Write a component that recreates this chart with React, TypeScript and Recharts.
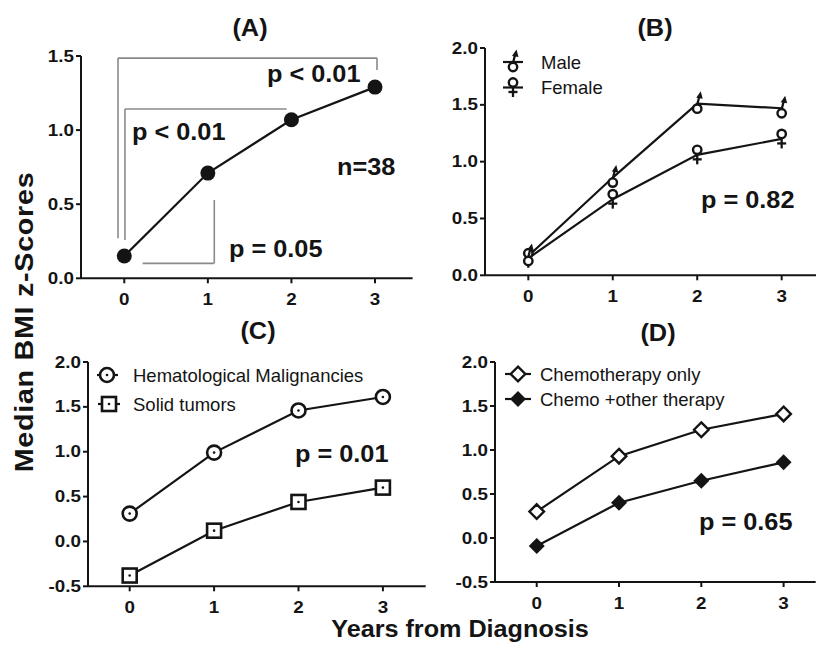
import React from 'react';
import { LineChart, Line, XAxis, YAxis, ReferenceLine } from 'recharts';

// values (median BMI z-scores by year from diagnosis)
const years = [0, 1, 2, 3];
const overall = [0.15, 0.71, 1.07, 1.29];
const male = [0.17, 0.86, 1.51, 1.47];
const female = [0.15, 0.67, 1.06, 1.2];
const hematological = [0.31, 0.99, 1.46, 1.61];
const solidTumors = [-0.38, 0.12, 0.44, 0.6];
const chemoOnly = [0.3, 0.93, 1.23, 1.41];
const chemoOther = [-0.09, 0.4, 0.65, 0.86];

const ticksA = [0, 0.5, 1, 1.5];
const ticksB = [0, 0.5, 1, 1.5, 2];
const ticksCD = [-0.5, 0, 0.5, 1, 1.5, 2];

// significance brackets of panel A, as polylines in data units
const bracketsA: [number, number][][] = [
  [[-0.075, 0.27], [-0.075, 1.486], [3.024, 1.486], [3.024, 1.405]],
  [[0.008, 0.258], [0.008, 1.142], [1.943, 1.142]],
  [[0.22, 0.101], [1.077, 0.101], [1.077, 0.528]],
];

const INK = '#141414';
const FONT = '"Liberation Sans", Arial, Helvetica, sans-serif';

const table = (cols: Record<string, number[]>) =>
  years.map((x, i) => {
    const row: Record<string, number> = { x };
    Object.keys(cols).forEach((k) => (row[k] = cols[k][i]));
    return row;
  });

// ---- marker glyphs ----
const filledCircle = (cx: number, cy: number, key?: string) => (
  <circle key={key} cx={cx} cy={cy} r={7.5} fill={INK} />
);

const maleGlyph = (cx: number, cy: number, key?: string) => (
  <g key={key}>
    <line x1={cx} y1={cy + 1} x2={cx + 2} y2={cy - 7} stroke={INK} strokeWidth={2.3} />
    <polygon points={`${cx + 3.5},${cy - 12.5} ${cx - 1},${cy - 6} ${cx + 5.5},${cy - 5}`} fill={INK} />
    <circle cx={cx} cy={cy + 5} r={4.2} fill="#fff" stroke={INK} strokeWidth={2.4} />
  </g>
);

const femaleGlyph = (cx: number, cy: number, key?: string) => (
  <g key={key}>
    <line x1={cx} y1={cy - 1} x2={cx} y2={cy + 9.5} stroke={INK} strokeWidth={2.3} />
    <line x1={cx - 4.5} y1={cy + 4.5} x2={cx + 4.5} y2={cy + 4.5} stroke={INK} strokeWidth={2.3} />
    <circle cx={cx} cy={cy - 5} r={4.2} fill="#fff" stroke={INK} strokeWidth={2.4} />
  </g>
);

const dottedCircle = (cx: number, cy: number, key?: string) => (
  <g key={key}>
    <circle cx={cx} cy={cy} r={7} fill="#fff" stroke={INK} strokeWidth={2.6} />
    <circle cx={cx} cy={cy} r={1.3} fill={INK} />
  </g>
);

const dottedSquare = (cx: number, cy: number, key?: string) => (
  <g key={key}>
    <rect x={cx - 7} y={cy - 7} width={14} height={14} fill="#fff" stroke={INK} strokeWidth={2.6} />
    <circle cx={cx} cy={cy} r={1.3} fill={INK} />
  </g>
);

const openDiamond = (cx: number, cy: number, key?: string) => (
  <polygon
    key={key}
    points={`${cx},${cy - 7.3} ${cx + 7.3},${cy} ${cx},${cy + 7.3} ${cx - 7.3},${cy}`}
    fill="#fff"
    stroke={INK}
    strokeWidth={2.4}
  />
);

const solidDiamond = (cx: number, cy: number, key?: string) => (
  <polygon
    key={key}
    points={`${cx},${cy - 8} ${cx + 8},${cy} ${cx},${cy + 8} ${cx - 8},${cy}`}
    fill={INK}
  />
);

type Glyph = (cx: number, cy: number, key?: string) => React.ReactElement;
const asDot = (g: Glyph, id: string) => (p: any) => g(p.cx, p.cy, `${id}-${p.index}`);

// bold text, widened a little like the original's Helvetica Bold
function Bold({
  x, y, size, sx = 1.1, anchor = 'start', rotate = 0, ls = 0, baseline, dy, children,
}: {
  x: number; y: number; size: number; sx?: number; anchor?: 'start' | 'middle' | 'end';
  rotate?: number; ls?: number; baseline?: string; dy?: string; children: React.ReactNode;
}) {
  return (
    <text
      x={0}
      y={0}
      dy={dy}
      textAnchor={anchor}
      dominantBaseline={baseline as any}
      transform={`translate(${x} ${y}) rotate(${rotate}) scale(${sx} 1)`}
      style={{ fontFamily: FONT, fontWeight: 700, fontSize: size, fill: INK, letterSpacing: ls }}
    >
      {children}
    </text>
  );
}

// ---- ticks ----
const YTick = ({ x, y, payload }: any) => (
  <Bold x={x} y={y} size={16.5} sx={1.14} anchor="end" baseline="central">
    {Number(payload.value).toFixed(1)}
  </Bold>
);

const XTick = ({ x, y, payload }: any) => (
  <Bold x={x} y={y} size={16.5} sx={1.14} anchor="middle" dy="0.71em">
    {payload.value}
  </Bold>
);

interface PanelProps {
  plot: { left: number; right: number; top: number; bottom: number };
  xDomain: [number, number];
  yDomain: [number, number];
  yTicks: number[];
  data: Record<string, number>[];
  children: React.ReactNode;
}

const Y_W = 60;
const X_H = 32;

function Panel({ plot, xDomain, yDomain, yTicks, data, children }: PanelProps) {
  const left = plot.left - Y_W;
  const top = plot.top - 10;
  const width = plot.right - left + 4;
  const height = plot.bottom - plot.top + 10 + X_H + 4;
  return (
    <div style={{ position: 'absolute', left, top, width, height }}>
      <LineChart width={width} height={height} data={data} margin={{ top: 10, right: 4, bottom: 4, left: 0 }}>
        <XAxis
          type="number"
          dataKey="x"
          domain={xDomain}
          ticks={years}
          height={X_H}
          tick={<XTick />}
          tickSize={5}
          tickMargin={10}
          axisLine={{ stroke: INK, strokeWidth: 2 }}
          tickLine={{ stroke: INK, strokeWidth: 2 }}
        />
        <YAxis
          type="number"
          domain={yDomain}
          ticks={yTicks}
          width={Y_W}
          tick={<YTick />}
          tickSize={5}
          tickMargin={2}
          axisLine={{ stroke: INK, strokeWidth: 2 }}
          tickLine={{ stroke: INK, strokeWidth: 2 }}
        />
        {children}
      </LineChart>
    </div>
  );
}

const lineProps = { type: 'linear' as const, stroke: INK, strokeWidth: 2.2, activeDot: false, isAnimationActive: false };

const legendText = { fontFamily: FONT, fontSize: 18.5, fill: INK } as const;

function LegendRow({ x, y, glyph, label, x1, x2, tx }: { x: number; y: number; glyph: Glyph; label: string; x1: number; x2: number; tx: number }) {
  return (
    <g>
      <line x1={x1} y1={y} x2={x2} y2={y} stroke={INK} strokeWidth={2.2} />
      {glyph(x, y)}
      <text x={tx} y={y} dominantBaseline="central" style={legendText}>
        {label}
      </text>
    </g>
  );
}

export default function App() {
  const dataA = table({ v: overall });
  const dataB = table({ male, female });
  const dataC = table({ hem: hematological, solid: solidTumors });
  const dataD = table({ only: chemoOnly, other: chemoOther });

  const segments = bracketsA.flatMap((pts) =>
    pts.slice(1).map((p, i) => [pts[i], p] as [[number, number], [number, number]])
  );

  return (
    <div style={{ position: 'absolute', left: 0, top: 0, width: 816, height: 650, overflow: 'hidden', background: '#fff' }}>
      <Panel plot={{ left: 81, right: 412.6, top: 56, bottom: 278.3 }} xDomain={[-0.518, 3.45]} yDomain={[0, 1.5]} yTicks={ticksA} data={dataA}>
        {segments.map(([a, b], i) => (
          <ReferenceLine
            key={`br-${i}`}
            segment={[{ x: a[0], y: a[1] }, { x: b[0], y: b[1] }]}
            stroke="#8a8a8a"
            strokeWidth={1.6}
            ifOverflow="visible"
          />
        ))}
        <Line {...lineProps} dataKey="v" dot={asDot(filledCircle, 'a')} />
      </Panel>

      <Panel plot={{ left: 484.7, right: 816, top: 47.7, bottom: 275 }} xDomain={[-0.513, 3.41]} yDomain={[0, 2]} yTicks={ticksB} data={dataB}>
        <Line {...lineProps} dataKey="female" dot={asDot(femaleGlyph, 'f')} />
        <Line {...lineProps} dataKey="male" dot={asDot(maleGlyph, 'm')} />
      </Panel>

      <Panel plot={{ left: 88.3, right: 426, top: 361.7, bottom: 586 }} xDomain={[-0.494, 3.507]} yDomain={[-0.5, 2]} yTicks={ticksCD} data={dataC}>
        <Line {...lineProps} dataKey="hem" dot={asDot(dottedCircle, 'h')} />
        <Line {...lineProps} dataKey="solid" dot={asDot(dottedSquare, 's')} />
      </Panel>

      <Panel plot={{ left: 495.3, right: 816, top: 361.7, bottom: 581.7 }} xDomain={[-0.507, 3.39]} yDomain={[-0.5, 2]} yTicks={ticksCD} data={dataD}>
        <Line {...lineProps} dataKey="only" dot={asDot(openDiamond, 'o')} />
        <Line {...lineProps} dataKey="other" dot={asDot(solidDiamond, 'c')} />
      </Panel>

      <svg width={816} height={650} style={{ position: 'absolute', left: 0, top: 0, pointerEvents: 'none' }}>
        {/* panel letters */}
        <Bold x={250} y={36} size={23} sx={1.1} anchor="middle">(A)</Bold>
        <Bold x={655} y={36} size={23} sx={1.1} anchor="middle">(B)</Bold>
        <Bold x={258} y={339} size={23} sx={1.1} anchor="middle">(C)</Bold>
        <Bold x={658} y={341} size={23} sx={1.1} anchor="middle">(D)</Bold>

        {/* statistics */}
        <Bold x={267} y={82} size={23} sx={1.1}>p &lt; 0.01</Bold>
        <Bold x={132} y={140} size={23} sx={1.1}>p &lt; 0.01</Bold>
        <Bold x={337} y={175} size={23} sx={1.1}>n=38</Bold>
        <Bold x={229} y={257} size={23} sx={1.1}>p = 0.05</Bold>
        <Bold x={701} y={208} size={23} sx={1.1}>p = 0.82</Bold>
        <Bold x={295} y={462} size={23} sx={1.1}>p = 0.01</Bold>
        <Bold x={699} y={530} size={23} sx={1.1}>p = 0.65</Bold>

        {/* legends */}
        <LegendRow x={513} y={62} x1={503} x2={523} tx={541} glyph={maleGlyph} label="Male" />
        <LegendRow x={513} y={87.5} x1={503} x2={523} tx={541} glyph={femaleGlyph} label="Female" />
        <LegendRow x={107} y={375} x1={97} x2={118} tx={133} glyph={dottedCircle} label="Hematological Malignancies" />
        <LegendRow x={109} y={404} x1={98} x2={120} tx={133} glyph={dottedSquare} label="Solid tumors" />
        <LegendRow x={518} y={374} x1={505} x2={531} tx={540} glyph={openDiamond} label="Chemotherapy only" />
        <LegendRow x={518} y={399} x1={505} x2={531} tx={540} glyph={solidDiamond} label="Chemo +other therapy" />

        {/* shared axis titles */}
        <Bold x={33} y={322} size={25} sx={1.15} ls={0.6} anchor="middle" rotate={-90}>
          Median BMI z-Scores
        </Bold>
        <Bold x={460} y={637} size={24} sx={1.05} anchor="middle">
          Years from Diagnosis
        </Bold>
      </svg>
    </div>
  );
}
